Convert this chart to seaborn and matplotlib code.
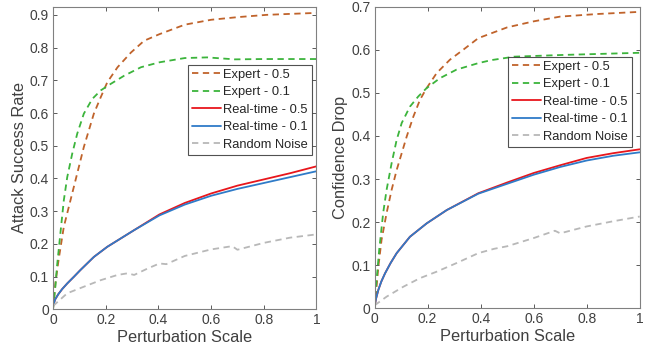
import matplotlib
matplotlib.use("Agg")
import matplotlib.pyplot as plt
import seaborn as sns

sns.set_style("ticks")
plt.rcParams['font.family'] = ['Liberation Sans', 'DejaVu Sans']

# left panel: attack success rate
asr_exp05_x = [0, 0.009, 0.021, 0.041, 0.06, 0.079, 0.098, 0.117, 0.136, 0.155, 0.181, 0.206,
               0.245, 0.296, 0.346, 0.404, 0.5, 0.6, 0.7, 0.81, 0.9, 1.0]
asr_exp05_y = [0, 0.079, 0.15, 0.252, 0.313, 0.374, 0.435, 0.496, 0.547, 0.598, 0.648, 0.694,
               0.74, 0.785, 0.821, 0.841, 0.87, 0.885, 0.893, 0.90, 0.903, 0.906]
asr_exp01_x = [0, 0.009, 0.015, 0.028, 0.041, 0.054, 0.073, 0.092, 0.117, 0.149, 0.181, 0.219,
               0.27, 0.334, 0.404, 0.5, 0.585, 0.69, 0.8, 1.0]
asr_exp01_y = [0, 0.07, 0.13, 0.232, 0.333, 0.404, 0.476, 0.537, 0.598, 0.643, 0.669, 0.689,
               0.714, 0.74, 0.755, 0.768, 0.77, 0.764, 0.765, 0.765]
asr_rt_x = [0, 0.008, 0.02, 0.035, 0.054, 0.08, 0.104, 0.155, 0.206, 0.308, 0.404, 0.5, 0.6, 0.7,
            0.8, 0.9, 1.0]
asr_rt05_y = [0.01, 0.03, 0.046, 0.062, 0.079, 0.1, 0.12, 0.16, 0.191, 0.242, 0.29, 0.325, 0.354,
              0.378, 0.397, 0.416, 0.437]
asr_rt01_y = [0.01, 0.03, 0.046, 0.062, 0.079, 0.1, 0.12, 0.16, 0.191, 0.242, 0.287, 0.32, 0.347,
              0.368, 0.386, 0.404, 0.422]
asr_noise_x = [0, 0.054, 0.117, 0.181, 0.245, 0.283, 0.308, 0.36, 0.404, 0.43, 0.5, 0.6, 0.68,
               0.7, 0.8, 0.9, 1.0]
asr_noise_y = [0.01, 0.049, 0.069, 0.089, 0.105, 0.11, 0.105, 0.125, 0.14, 0.138, 0.163, 0.183,
               0.193, 0.182, 0.203, 0.219, 0.229]

# right panel: confidence drop
cd_exp05_x = [0, 0.005, 0.014, 0.026, 0.045, 0.064, 0.083, 0.102, 0.121, 0.146, 0.171, 0.196,
              0.234, 0.284, 0.334, 0.391, 0.5, 0.6, 0.7, 0.84, 1.0]
cd_exp05_y = [0, 0.035, 0.097, 0.159, 0.221, 0.275, 0.321, 0.36, 0.399, 0.445, 0.484, 0.511,
              0.546, 0.577, 0.6, 0.627, 0.652, 0.666, 0.677, 0.683, 0.688]
cd_exp01_x = [0, 0.005, 0.017, 0.032, 0.045, 0.064, 0.083, 0.102, 0.133, 0.165, 0.196, 0.246,
              0.309, 0.391, 0.44, 0.526, 0.71, 1.0]
cd_exp01_y = [0, 0.05, 0.135, 0.221, 0.275, 0.337, 0.391, 0.43, 0.468, 0.492, 0.511, 0.534,
              0.554, 0.569, 0.576, 0.584, 0.588, 0.593]
cd_rt_x = [0, 0.005, 0.014, 0.025, 0.039, 0.06, 0.083, 0.133, 0.196, 0.272, 0.391, 0.5, 0.6, 0.7,
           0.8, 0.9, 1.0]
cd_rt05_y = [0.005, 0.022, 0.043, 0.062, 0.081, 0.105, 0.128, 0.166, 0.197, 0.228, 0.267, 0.292,
             0.314, 0.332, 0.349, 0.36, 0.369]
cd_rt01_y = [0.005, 0.022, 0.043, 0.062, 0.081, 0.105, 0.128, 0.166, 0.197, 0.228, 0.266, 0.289,
             0.31, 0.328, 0.343, 0.354, 0.362]
cd_noise_x = [0, 0.045, 0.108, 0.171, 0.234, 0.309, 0.391, 0.45, 0.5, 0.6, 0.68, 0.7, 0.8, 0.9, 1.0]
cd_noise_y = [0.007, 0.027, 0.05, 0.07, 0.085, 0.105, 0.128, 0.138, 0.144, 0.163, 0.18, 0.174,
              0.19, 0.202, 0.213]

labels = ["Expert - 0.5", "Expert - 0.1", "Real-time - 0.5", "Real-time - 0.1", "Random Noise"]
colors = ["#C0632B", "#3CB43C", "#E8161C", "#2F7BC8", "#B8B8B8"]
dash = (0, (3.5, 2.5))
styles = [dash, dash, "-", "-", dash]

panels = [
    {"series": [(asr_exp05_x, asr_exp05_y), (asr_exp01_x, asr_exp01_y), (asr_rt_x, asr_rt05_y),
                (asr_rt_x, asr_rt01_y), (asr_noise_x, asr_noise_y)],
     "ylabel": "Attack Success Rate", "ylim": 0.925, "yticks": [i / 10 for i in range(10)],
     "rect": [0.0818, 0.1263, 0.4066, 0.8548], "legend": (0.983, 0.807)},
    {"series": [(cd_exp05_x, cd_exp05_y), (cd_exp01_x, cd_exp01_y), (cd_rt_x, cd_rt05_y),
                (cd_rt_x, cd_rt01_y), (cd_noise_x, cd_noise_y)],
     "ylabel": "Confidence Drop", "ylim": 0.70, "yticks": [i / 10 for i in range(8)],
     "rect": [0.5782, 0.1291, 0.409, 0.852], "legend": (0.971, 0.833)},
]

fig = plt.figure(figsize=(6.48, 3.54), dpi=100)
for p in panels:
    ax = fig.add_axes(p["rect"])
    for (xs, ys), lab, c, ls in zip(p["series"], labels, colors, styles):
        sns.lineplot(x=xs, y=ys, ax=ax, color=c, linestyle=ls, linewidth=1.3, label=lab)
    ax.set_xlim(0, 1)
    ax.set_ylim(0, p["ylim"])
    ax.set_xticks([0, 0.2, 0.4, 0.6, 0.8, 1])
    ax.set_xticklabels(["0", "0.2", "0.4", "0.6", "0.8", "1"])
    ax.set_yticks(p["yticks"])
    ax.set_yticklabels(["0"] + [f"{t:.1f}" for t in p["yticks"][1:]])
    ax.tick_params(direction="in", top=True, right=True, length=3, width=0.6,
                   labelsize=10, colors="#404040", pad=3)
    for s in ax.spines.values():
        s.set_color("#808080")
        s.set_linewidth(0.8)
    ax.set_xlabel("Perturbation Scale", fontsize=11.8, color="#404040", labelpad=2)
    ax.set_ylabel(p["ylabel"], fontsize=11.8, color="#404040", labelpad=2)
    leg = ax.legend(loc="upper right", bbox_to_anchor=p["legend"], fontsize=9.3,
                    frameon=True, fancybox=False, handlelength=2.3, handletextpad=0.15,
                    borderpad=0.3, labelspacing=0.42, borderaxespad=0)
    leg.get_frame().set_edgecolor("#262626")
    leg.get_frame().set_linewidth(0.8)
    for t in leg.get_texts():
        t.set_color("#262626")

fig.savefig("out.png", dpi=100)
